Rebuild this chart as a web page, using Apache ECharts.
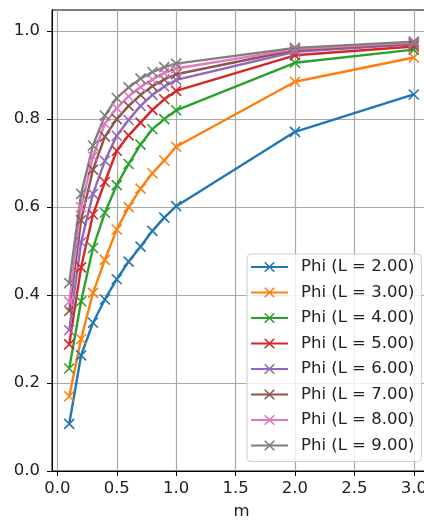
<!DOCTYPE html>
<html>
<head>
<meta charset="utf-8">
<script src="https://cdn.jsdelivr.net/npm/echarts@6/dist/echarts.min.js"></script>
<style>
  html, body { margin: 0; padding: 0; background: #fff; }
  #chart { width: 424px; height: 522px; }
</style>
</head>
<body>
<div id="chart"></div>
<script>
// Sample points along m
const mValues = [0.1, 0.2, 0.3, 0.4, 0.5, 0.6, 0.7, 0.8, 0.9, 1.0, 2.0, 3.0];

// Length parameter of each curve
const lengths = [2, 3, 4, 5, 6, 7, 8, 9];

// Phi values, one array per length
const phiL2 = [0.107, 0.263, 0.337, 0.390, 0.436, 0.476, 0.510, 0.546, 0.576, 0.602, 0.771, 0.856];
const phiL3 = [0.170, 0.300, 0.405, 0.480, 0.549, 0.600, 0.642, 0.677, 0.706, 0.737, 0.885, 0.940];
const phiL4 = [0.233, 0.386, 0.507, 0.587, 0.650, 0.698, 0.742, 0.777, 0.800, 0.820, 0.928, 0.958];
const phiL5 = [0.288, 0.463, 0.583, 0.657, 0.728, 0.763, 0.792, 0.821, 0.845, 0.864, 0.945, 0.965];
const phiL6 = [0.320, 0.520, 0.630, 0.705, 0.762, 0.798, 0.830, 0.855, 0.874, 0.889, 0.953, 0.970];
const phiL7 = [0.364, 0.570, 0.685, 0.760, 0.800, 0.830, 0.855, 0.875, 0.890, 0.902, 0.957, 0.972];
const phiL8 = [0.385, 0.600, 0.715, 0.790, 0.825, 0.852, 0.873, 0.890, 0.905, 0.915, 0.959, 0.974];
const phiL9 = [0.427, 0.630, 0.740, 0.808, 0.848, 0.872, 0.892, 0.907, 0.918, 0.926, 0.962, 0.976];

const phiSeries = [phiL2, phiL3, phiL4, phiL5, phiL6, phiL7, phiL8, phiL9];

// Tick positions
const xTicks = [0.0, 0.5, 1.0, 1.5, 2.0, 2.5, 3.0];
const yTicks = [0.0, 0.2, 0.4, 0.6, 0.8, 1.0];

const colors = ['#1f77b4', '#ff7f0e', '#2ca02c', '#d62728', '#9467bd', '#8c564b', '#e377c2', '#7f7f7f'];

const FONT = 'DejaVu Sans';
const FS = 16.5;
const crossSymbol = 'path://M0,0L10,10M0,10L10,0';

const series = lengths.map((L, i) => ({
  name: 'Phi (L = ' + L.toFixed(2) + ')',
  type: 'line',
  data: mValues.map((m, j) => [m, phiSeries[i][j]]),
  symbol: crossSymbol,
  symbolSize: 10,
  showSymbol: true,
  color: colors[i],
  lineStyle: { width: 2.4, color: colors[i] },
  itemStyle: { color: colors[i], borderColor: colors[i], borderWidth: 1.6 },
  emphasis: { disabled: true },
  silent: true
}));

const axisCommon = {
  type: 'value',
  axisLine: { show: true, onZero: false, lineStyle: { color: '#000', width: 1 } },
  axisTick: { show: true, inside: false, length: 5, lineStyle: { color: '#000', width: 1 } },
  splitLine: { show: true, lineStyle: { color: '#aaaaaa', width: 1.2 } },
  axisLabel: { color: '#222', fontFamily: FONT, fontSize: FS, formatter: v => v.toFixed(1) }
};

const chart = echarts.init(document.getElementById('chart'), null, { renderer: 'canvas' });
chart.setOption({
  animation: false,
  backgroundColor: '#fff',
  textStyle: { fontFamily: FONT },
  // plot area runs a little past the right edge of the canvas
  grid: {
    left: 52, top: 10, width: 379, height: 461,
    outerBoundsMode: 'none',
    containLabel: false,
    show: true, borderColor: '#000', borderWidth: 1, backgroundColor: 'transparent'
  },
  xAxis: Object.assign({}, axisCommon, {
    min: -0.045, max: 3.145,
    axisTick: Object.assign({}, axisCommon.axisTick, { customValues: xTicks }),
    axisLabel: Object.assign({}, axisCommon.axisLabel, { customValues: xTicks, margin: 9 }),
    name: 'm',
    nameLocation: 'middle',
    nameGap: 32,
    nameTextStyle: { color: '#222', fontFamily: FONT, fontSize: FS }
  }),
  yAxis: Object.assign({}, axisCommon, {
    min: 0, max: 1.048,
    axisTick: Object.assign({}, axisCommon.axisTick, { customValues: yTicks }),
    axisLabel: Object.assign({}, axisCommon.axisLabel, { customValues: yTicks, margin: 12 })
  }),
  legend: {
    orient: 'vertical',
    left: 247,
    top: 254,
    padding: [4, 7, 7, 3],
    itemWidth: 37,
    itemHeight: 12,
    itemGap: 7.5,
    backgroundColor: 'rgba(255,255,255,0.8)',
    borderColor: '#cccccc',
    borderWidth: 1,
    borderRadius: 4,
    itemStyle: { borderWidth: 1.6 },
    textStyle: { color: '#222', fontFamily: FONT, fontSize: FS, lineHeight: 18, padding: [0, 0, 0, 8] },
    selectedMode: false,
    data: series.map(s => s.name)
  },
  series: series
});
</script>
</body>
</html>
